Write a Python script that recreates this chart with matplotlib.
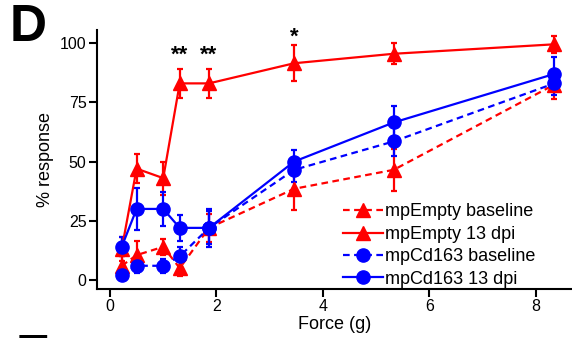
import matplotlib.pyplot as plt
from matplotlib.lines import Line2D

plt.rcParams['font.family'] = ['Liberation Sans', 'DejaVu Sans']

# filament forces (g)
force = [0.22, 0.5, 1.0, 1.31, 1.86, 3.46, 5.33, 8.35]

# % response, mean and SEM per group
empty_base = [6, 10.5, 14, 5, 22, 38.5, 46.5, 82.5]
empty_base_err = [4, 6, 3.5, 3.5, 6, 9, 9, 6]
empty_13 = [13, 47, 43, 83, 83, 91.5, 95.5, 99.5]
empty_13_err = [5, 6, 7, 6, 6, 7.5, 4.5, 3.5]
cd163_base = [2, 6, 6, 10, 22, 46.5, 58.5, 83]
cd163_base_err = [1, 3, 3, 4, 7, 5, 6, 5]
cd163_13 = [14, 30, 30, 22, 22, 50, 66.5, 87]
cd163_13_err = [4, 9, 7, 5.5, 8, 5, 7, 7]

# significance marks (x position, text)
sig_x = [1.31, 1.86, 3.46]
sig_txt = ['**', '**', '*']

RED = '#ff0000'
BLUE = '#0000ff'
dash = (0, (3, 2))

fig = plt.figure(figsize=(5.72, 3.38), dpi=100)
ax = fig.add_axes([0.1696, 0.145, 0.8304, 0.766])

series = [
    (empty_base, empty_base_err, RED, '^', 10.5, dash, 'mpEmpty baseline'),
    (empty_13, empty_13_err, RED, '^', 10.5, '-', 'mpEmpty 13 dpi'),
    (cd163_base, cd163_base_err, BLUE, 'o', 9.5, dash, 'mpCd163 baseline'),
    (cd163_13, cd163_13_err, BLUE, 'o', 9.5, '-', 'mpCd163 13 dpi'),
]
handles = []
for y, e, c, m, ms, ls, lab in series:
    ax.errorbar(force, y, yerr=e, color=c, ecolor=c, marker=m, markersize=ms,
                linestyle=ls, linewidth=1.6, elinewidth=1.6, capsize=2.3,
                capthick=1.6)
    handles.append(Line2D([], [], color=c, marker=m, markersize=ms,
                          linestyle=ls, linewidth=1.6, label=lab))

for x, s in zip(sig_x, sig_txt):
    yt = 102.5 if s == '*' else 95
    ax.text(x, yt, s, ha='center', va='center', fontsize=16, fontweight='bold')

ax.set_xlim(-0.244, 8.68)
ax.set_ylim(-3.8, 105.5)
ax.set_xticks([0, 2, 4, 6, 8])
ax.set_yticks([0, 25, 50, 75, 100])
ax.spines['top'].set_visible(False)
ax.spines['right'].set_visible(False)
for sp in ('left', 'bottom'):
    ax.spines[sp].set_linewidth(1.5)
ax.tick_params(direction='out', length=5.5, width=1.5, labelsize=11.5, pad=2)
ax.set_xlabel('Force (g)', fontsize=13, labelpad=1)
ax.set_ylabel('% response', fontsize=13, labelpad=4)

ax.legend(handles=handles, loc='lower left', bbox_to_anchor=(0.518, 0.005),
          frameon=False, fontsize=13, handlelength=2.2, handletextpad=0.15,
          labelspacing=0.3, borderpad=0, borderaxespad=0, numpoints=1)

fig.text(0.016, 0.99, 'D', fontsize=37, fontweight='bold', ha='left', va='top')
fig.text(0.027, 0.015, 'E', fontsize=37, fontweight='bold', ha='left', va='top')

fig.savefig('out.png', dpi=100)
